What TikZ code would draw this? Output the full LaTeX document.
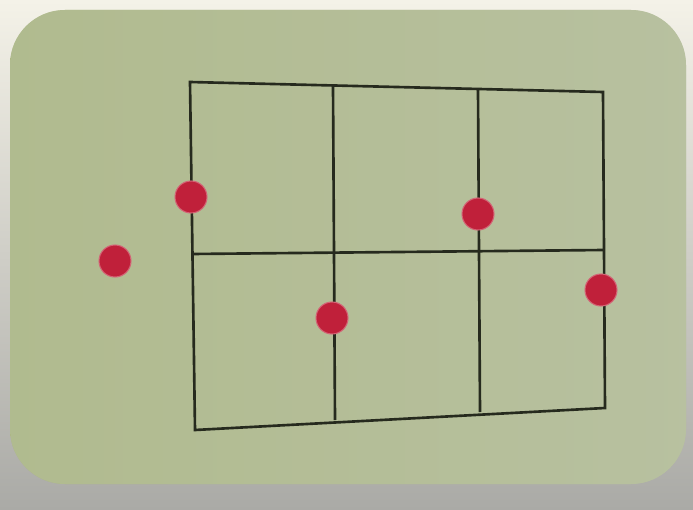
\documentclass[tikz,border=0pt]{standalone}
\usepackage{xcolor}
\usepackage{tikz}
\usetikzlibrary{positioning,calc,backgrounds}
\definecolor{cardgreen}{RGB}{184,193,160}
\definecolor{cardlight}{RGB}{166,178,118}
\definecolor{paperwhite}{RGB}{244,242,232}
\definecolor{tablegrey}{RGB}{170,170,166}
\definecolor{inkline}{RGB}{38,42,30}
\definecolor{dotred}{RGB}{192,32,58}

\begin{document}
\begin{tikzpicture}[
    x=0.02cm, y=-0.02cm,
    gridline/.style={draw=inkline, line width=1.5pt},
    dot/.style={circle, fill=dotred, draw=dotred!70!white, line width=0.6pt, minimum size=0.64cm, inner sep=0pt}
  ]
    % page and card
    \useasboundingbox (0,0) rectangle (693,510);
    \shade[top color=paperwhite, bottom color=tablegrey] (0,0) rectangle (693,510);
    \shade[left color=cardlight, right color=cardgreen, rounded corners=1.1cm]
      (10,10) rectangle (686,484);
    \fill[cardgreen, opacity=0.6, rounded corners=1.1cm] (10,10) rectangle (686,484);

    % grid corners
    \coordinate (tl) at (190,82);
    \coordinate (tr) at (603,92);
    \coordinate (br) at (605,408);
    \coordinate (bl) at (195,430);
    \coordinate (ta) at (333,86);
    \coordinate (tb) at (478,90);
    \coordinate (ba) at (335,420);
    \coordinate (bb) at (480,412);
    \coordinate (ml) at (192,254);
    \coordinate (mr) at (604,250);

    \draw[gridline] (tl) -- (tr) -- (br) -- (bl) -- cycle;
    \draw[gridline] (ta) -- (ba);
    \draw[gridline] (tb) -- (bb);
    \draw[gridline] (ml) -- (mr);

    % dots
    \node[dot] (d1) at (115,261) {};
    \node[dot] (d2) at (191,197) {};
    \node[dot] (d3) at (332,318) {};
    \node[dot] (d4) at (478,214) {};
    \node[dot] (d5) at (601,290) {};
  \end{tikzpicture}
\end{document}
